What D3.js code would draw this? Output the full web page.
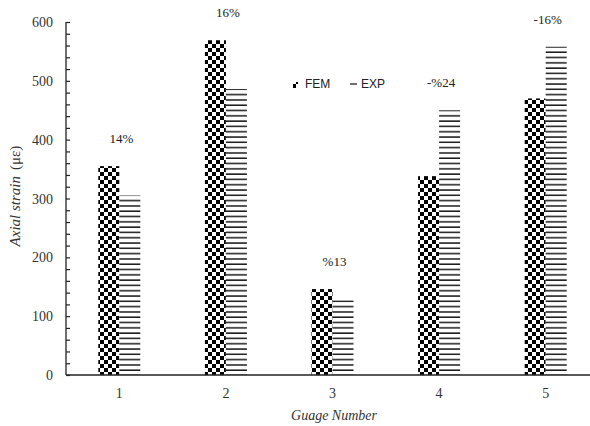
<!DOCTYPE html>
<html>
<head>
<meta charset="utf-8">
<script src="https://cdn.jsdelivr.net/npm/d3@7"></script>
<style>
  html, body { margin: 0; padding: 0; background: #fff; }
  svg { display: block; }
</style>
</head>
<body>
<script>
// Gauge readings: finite-element prediction vs. experiment
const gauges = ["1", "2", "3", "4", "5"];
const femValues = [355, 569, 146, 338, 470];
const expValues = [305, 486, 127, 450, 558];
const diffLabels = ["14%", "16%", "%13", "-%24", "-16%"];
const yTicks = [0, 100, 200, 300, 400, 500, 600];
const seriesNames = ["FEM", "EXP"];

const W = 590, H = 426;
const svg = d3.select("body").append("svg").attr("width", W).attr("height", H);

const defs = svg.append("defs");
// checkerboard fill for FEM
const chk = defs.append("pattern").attr("id", "checker")
  .attr("patternUnits", "userSpaceOnUse").attr("width", 8).attr("height", 8);
chk.append("rect").attr("width", 8).attr("height", 8).attr("fill", "#fff");
chk.append("rect").attr("x", 0).attr("y", 0).attr("width", 4).attr("height", 4).attr("fill", "#000");
chk.append("rect").attr("x", 4).attr("y", 4).attr("width", 4).attr("height", 4).attr("fill", "#000");
// horizontal hatch for EXP
const hatch = defs.append("pattern").attr("id", "hatch")
  .attr("patternUnits", "userSpaceOnUse").attr("width", 6).attr("height", 5.3);
hatch.append("rect").attr("width", 6).attr("height", 5.3).attr("fill", "#fff");
hatch.append("rect").attr("x", 0).attr("y", 3.8).attr("width", 6).attr("height", 1.5).attr("fill", "#1a1a1a");

const x = d3.scaleBand().domain(gauges).range([66, 599]).padding(0);
const y = d3.scaleLinear().domain([0, 600]).range([375, 22]);
const barW = 21;

const groups = svg.append("g").selectAll("g").data(gauges).join("g");
groups.append("rect")
  .attr("x", (d) => x(d) + x.bandwidth() / 2 - barW)
  .attr("y", (d, i) => y(femValues[i]))
  .attr("width", barW)
  .attr("height", (d, i) => y(0) - y(femValues[i]))
  .attr("fill", "url(#checker)");
groups.append("rect")
  .attr("x", (d) => x(d) + x.bandwidth() / 2)
  .attr("y", (d, i) => y(expValues[i]))
  .attr("width", barW)
  .attr("height", (d, i) => y(0) - y(expValues[i]))
  .attr("fill", "url(#hatch)");

// percentage difference above each pair
groups.append("text")
  .attr("x", (d) => x(d) + x.bandwidth() / 2 + 2)
  .attr("y", (d, i) => y(Math.max(femValues[i], expValues[i])) - 23)
  .attr("text-anchor", "middle")
  .attr("font-family", "Liberation Serif, serif")
  .attr("font-size", 13)
  .attr("fill", "#222")
  .text((d, i) => diffLabels[i]);

// y axis with inner ticks every 20
const yAxis = d3.axisRight(y)
  .tickValues(d3.range(0, 601, 20))
  .tickSize(4)
  .tickFormat("");
const gy = svg.append("g").attr("transform", "translate(66,0)").call(yAxis);
gy.select(".domain").attr("stroke", "#222").attr("stroke-width", 1.3).attr("d", `M0,${y(600)}V${y(0)}`);
gy.selectAll(".tick line").attr("stroke", "#222").attr("stroke-width", 1.2);

svg.append("g").selectAll("text").data(yTicks).join("text")
  .attr("x", 53).attr("y", (d) => y(d) + 5)
  .attr("text-anchor", "end")
  .attr("font-family", "Liberation Serif, serif")
  .attr("font-size", 14).attr("fill", "#333")
  .text((d) => d);

// x axis
const xAxis = d3.axisBottom(x).tickSize(0).tickPadding(0);
const gx = svg.append("g").attr("transform", `translate(0,${y(0)})`).call(xAxis);
gx.select(".domain").attr("stroke", "#222").attr("stroke-width", 1.5).attr("d", `M66,0H590`);
gx.selectAll(".tick text")
  .attr("dy", null).attr("y", 23)
  .attr("font-family", "Liberation Serif, serif")
  .attr("font-size", 14).attr("fill", "#333");

// axis titles
svg.append("text")
  .attr("x", 334).attr("y", 420)
  .attr("text-anchor", "middle")
  .attr("font-family", "Liberation Serif, serif")
  .attr("font-style", "italic")
  .attr("font-size", 14).attr("fill", "#333")
  .text("Guage Number");

const yt = svg.append("text")
  .attr("transform", "translate(20,196) rotate(-90)")
  .attr("text-anchor", "middle")
  .attr("font-family", "Liberation Serif, serif")
  .attr("font-size", 15).attr("fill", "#333");
yt.append("tspan").attr("font-style", "italic").text("Axial strain");
yt.append("tspan").attr("dx", 6).text("(με)");

// legend
const legend = svg.append("g");
legend.append("rect").attr("x", 293).attr("y", 82).attr("width", 5).attr("height", 6)
  .attr("fill", "url(#checker)");
legend.append("text").attr("x", 305).attr("y", 88)
  .attr("font-family", "Liberation Sans, Arial, sans-serif")
  .attr("font-size", 12).attr("fill", "#222").text(seriesNames[0]);
legend.append("line").attr("x1", 350).attr("x2", 357).attr("y1", 84).attr("y2", 84)
  .attr("stroke", "#222").attr("stroke-width", 1.3);
legend.append("text").attr("x", 361).attr("y", 88)
  .attr("font-family", "Liberation Sans, Arial, sans-serif")
  .attr("font-size", 12).attr("fill", "#222").text(seriesNames[1]);
</script>
</body>
</html>
